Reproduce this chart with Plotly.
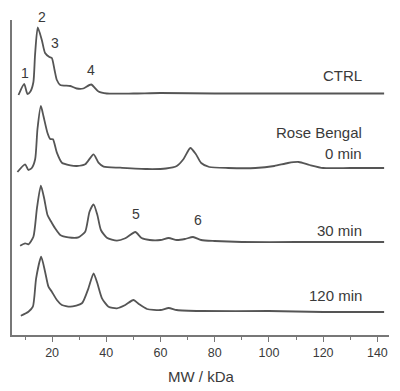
import plotly.graph_objects as go

# ---- data ----
series_names = ["CTRL", "Rose Bengal 0 min", "30 min", "120 min"]

ctrl_mw = [7.6, 9.7, 10.9, 12.0, 13.1, 13.7, 14.7, 16.2, 17.4, 19.0, 19.9, 20.9, 21.75, 23.0,
           26.7, 29.1, 31.5, 34.4, 37.1, 40.2, 50.0, 60.0, 80.0, 100.0, 120.0, 142.5]
ctrl_int = [-1.5, 9.5, -0.5, 2, 11.5, 38.5, 66, 53.5, 40.5, 36.5, 35.5, 23.5, 13.5, 8.5,
            7.5, 5, 5, 9, 2, 0, 0, 0.5, 0, 0, 0, 0]

rb0_mw = [7.2, 10.05, 11.26, 12.5, 13.74, 14.6, 15.85, 16.8, 18.3, 19.3, 20.3, 21.75, 23.6,
          26.7, 29.1, 32.2, 35.3, 37.1, 39.0, 45.1, 55.0, 62.0, 66.0, 68.5, 71.0, 73.0, 75.0,
          78.0, 85.0, 95.0, 102.0, 107.0, 111.0, 115.0, 120.0, 130.0, 142.5]
rb0_int = [-4, 3.7, -2, 0, 8.7, 39, 62, 52, 35, 29, 28.7, 15.3, 5.3,
           2.7, 2, 3.7, 13.7, 5.3, 1.3, 0.3, -1, -0.5, 2, 9, 20, 14, 5,
           1, 0, 0, 2, 5, 6, 3, 0, 0, 0]

m30_mw = [8.2, 10.05, 11.26, 13.1, 14.4, 15.85, 17.06, 18.3, 19.5, 21.1, 23.0, 26.0, 29.7,
          32.2, 33.8, 35.3, 36.7, 38.0, 40.2, 43.9, 47.0, 50.7, 53.0, 56.0, 60.0, 63.0, 66.0,
          69.0, 72.0, 75.0, 80.0, 90.0, 110.0, 130.0, 142.5]
m30_int = [-3.7, -1.3, -2.3, 5.3, 33.7, 56.3, 43.7, 27, 21, 13.7, 7, 4.7, 4.7,
           10.3, 30.3, 37.7, 27, 12, 4.3, 1.3, 3.7, 10, 4, 2, 2, 4, 2,
           3, 5, 2, 1, 0, 0, 0, 0]

m120_mw = [8.46, 11.26, 12.9, 14.1, 15.95, 17.4, 18.65, 19.9, 21.75, 23.6, 26.7, 31.0, 33.4,
           35.3, 36.7, 38.4, 40.8, 43.9, 47.0, 50.0, 52.0, 55.0, 60.0, 63.0, 66.0, 75.0,
           100.0, 120.0, 142.5]
m120_int = [-4.7, -0.7, 4.3, 32.7, 54.3, 39.3, 24.3, 19.3, 11, 6, 4.3, 7.7, 22.7,
            37.7, 27.7, 12.7, 4.3, 2.7, 6, 11, 7, 2, 1, 3, 1, 0,
            0, -1, -1]

# vertical offsets used to stack the traces
offsets = [241.5, 167, 93, 24]

trace_labels = ["CTRL", "Rose Bengal", "0 min", "30 min", "120 min"]
peak_labels = ["1", "2", "3", "4", "5", "6"]

x_tick_vals = [20, 40, 60, 80, 100, 120, 140]

# ---- figure ----
fig = go.Figure()
all_x = [ctrl_mw, rb0_mw, m30_mw, m120_mw]
all_y = [ctrl_int, rb0_int, m30_int, m120_int]
for name, xs, ys, off in zip(series_names, all_x, all_y, offsets):
    fig.add_trace(go.Scatter(
        x=xs, y=[v + off for v in ys], mode="lines", name=name,
        line=dict(color="#555555", width=1.8, shape="spline", smoothing=0.6),
        showlegend=False, hoverinfo="skip"))

TXT = "#3a3a3a"
FONT = "Liberation Sans, Arial, sans-serif"

# trace labels (right aligned)
label_y = [260, 203, 182, 105, 40]
for t, ly in zip(trace_labels, label_y):
    fig.add_annotation(x=134.9, y=ly, text=t, showarrow=False, xanchor="right",
                       yanchor="middle",
                       font=dict(size=15, color=TXT, family=FONT))

# peak numbers
peak_pos = [(10.0, 262), (16.3, 318), (21.1, 292), (34.2, 265), (51.0, 121), (74.0, 115)]
for t, (px, py) in zip(peak_labels, peak_pos):
    fig.add_annotation(x=px, y=py / 315.0, yref="paper", text=t, showarrow=False,
                       xanchor="center", yanchor="middle",
                       font=dict(size=14, color=TXT, family=FONT))

# axis title
fig.add_annotation(x=0.5, y=-0.133, xref="paper", yref="paper", text="MW / kDa",
                   showarrow=False, yanchor="middle",
                   font=dict(size=15, color=TXT, family=FONT))

fig.update_layout(
    width=400, height=391,
    margin=dict(l=12, r=11, t=20, b=56),
    paper_bgcolor="white", plot_bgcolor="white",
    xaxis=dict(range=[5.2, 144.3], showgrid=False, zeroline=False,
               showline=True, linecolor="#777777", linewidth=1.5,
               tickmode="array", tickvals=x_tick_vals,
               ticks="outside", ticklen=5, tickcolor="#777777", tickwidth=1.2,
               tickfont=dict(size=12.5, color=TXT, family=FONT),
               minor=dict(dtick=10, tick0=0, ticks="outside", ticklen=3,
                          tickcolor="#777777", showgrid=False)),
    yaxis=dict(range=[0, 315], showgrid=False, zeroline=False,
               showline=True, linecolor="#777777", linewidth=1.5,
               showticklabels=False, ticks=""),
)

fig.write_html("out.html")
